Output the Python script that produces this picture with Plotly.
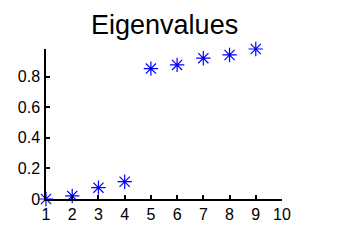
import plotly.graph_objects as go

x_vals = [1, 2, 3, 4, 5, 6, 7, 8, 9]
eigenvalues = [0.0, 0.02, 0.074, 0.113, 0.852, 0.876, 0.92, 0.941, 0.98]
x_ticks = [1, 2, 3, 4, 5, 6, 7, 8, 9, 10]
y_ticks = [0, 0.2, 0.4, 0.6, 0.8]
y_tick_labels = ["0", "0.2", "0.4", "0.6", "0.8"]

fig = go.Figure()
fig.add_trace(go.Scatter(
    x=x_vals, y=eigenvalues, mode="markers",
    marker=dict(symbol="asterisk-open", size=12, color="#0000ff",
                line=dict(color="#0000ff", width=1.2)),
    cliponaxis=False,
))

fig.update_layout(
    width=338, height=250,
    margin=dict(l=46, r=56, t=49, b=51),
    paper_bgcolor="white", plot_bgcolor="white",
    showlegend=False,
    font=dict(family="Liberation Sans, Arial, sans-serif", color="black", size=16),
    title=dict(text="Eigenvalues", x=0.487, xanchor="center", y=0.864, yanchor="bottom",
               font=dict(size=27, color="black")),
)
fig.update_xaxes(
    range=[1, 10], tickvals=x_ticks, ticktext=[str(t) for t in x_ticks],
    showgrid=False, zeroline=False, showline=True, linecolor="black", linewidth=1.5,
    ticks="inside", ticklen=4, tickcolor="black", tickwidth=1.5,
)
fig.update_yaxes(
    range=[0, 0.98], tickvals=y_ticks, ticktext=y_tick_labels,
    showgrid=False, zeroline=False, showline=True, linecolor="black", linewidth=1.5,
    ticks="inside", ticklen=4, tickcolor="black", tickwidth=1.5, ticklabelstandoff=1,
)

fig.write_html("out.html")
